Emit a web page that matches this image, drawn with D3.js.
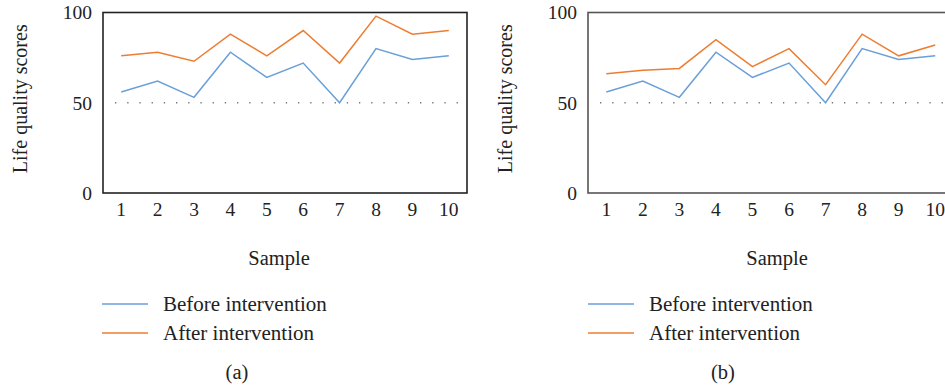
<!DOCTYPE html>
<html>
<head>
<meta charset="utf-8">
<script src="https://cdn.jsdelivr.net/npm/d3@7"></script>
<style>
  html, body { margin: 0; padding: 0; background: #fff; }
  svg { display: block; }
  text { font-family: "Liberation Serif", "DejaVu Serif", serif; fill: #222; }
</style>
</head>
<body>
<svg id="chart" width="945" height="388"></svg>
<script>
const samples = ["1","2","3","4","5","6","7","8","9","10"];
const yTicks = [0, 50, 100];
const beforeA = [56, 62, 53, 78, 64, 72, 50, 80, 74, 76];
const afterA  = [76, 78, 73, 88, 76, 90, 72, 98, 88, 90];
const beforeB = [56, 62, 53, 78, 64, 72, 50, 80, 74, 76];
const afterB  = [66, 68, 69, 85, 70, 80, 60, 88, 76, 82];
const seriesNames = ["Before intervention", "After intervention"];
const panelLabels = ["(a)", "(b)"];

const colors = ["#6a9fd8", "#ed7d31"];
const svg = d3.select("#chart");

function drawPanel(cfg) {
  const g = svg.append("g");
  const x = d3.scaleBand().domain(samples).range([cfg.left, cfg.right]);
  const y = d3.scaleLinear().domain([0, 100]).range([cfg.bottom, cfg.top]);
  const cx = d => x(d) + x.bandwidth() / 2;

  // reference dotted line at 50
  g.append("line")
    .attr("x1", cfg.left + 12).attr("x2", cfg.right)
    .attr("y1", y(50)).attr("y2", y(50))
    .attr("stroke", "#777").attr("stroke-width", 1.3)
    .attr("stroke-dasharray", "1.3,10.9");

  // lines
  const line = d3.line().x((d, i) => cx(samples[i])).y(d => y(d));
  [cfg.before, cfg.after].forEach((vals, k) => {
    g.append("path").datum(vals)
      .attr("fill", "none")
      .attr("stroke", colors[k])
      .attr("stroke-width", 1.5)
      .attr("stroke-linejoin", "miter")
      .attr("d", line);
  });

  // frame
  g.append("rect")
    .attr("x", cfg.left).attr("y", cfg.top)
    .attr("width", cfg.right - cfg.left).attr("height", cfg.bottom - cfg.top)
    .attr("fill", "none").attr("stroke", cfg.frame).attr("stroke-width", 1.6);

  // y axis
  const ya = g.append("g")
    .attr("transform", `translate(${cfg.left - 11},0)`)
    .call(d3.axisLeft(y).tickValues(yTicks).tickSize(0).tickPadding(0));
  ya.select(".domain").remove();
  ya.selectAll("text").attr("font-family", "Liberation Serif").attr("font-size", 19.5).attr("fill", "#222");

  // x axis
  const xa = g.append("g")
    .attr("transform", `translate(0,${cfg.bottom + 9})`)
    .call(d3.axisBottom(x).tickSize(0).tickPadding(0));
  xa.select(".domain").remove();
  xa.selectAll("text").attr("font-family", "Liberation Serif").attr("font-size", 19.5).attr("fill", "#222")
    .attr("dy", "0.71em");

  // y label
  g.append("text")
    .attr("transform", `translate(${cfg.ylabX},${(cfg.top + cfg.bottom) / 2 - 4}) rotate(-90)`)
    .attr("text-anchor", "middle").attr("dominant-baseline", "central")
    .attr("font-size", 20)
    .text("Life quality scores");

  // x label
  g.append("text")
    .attr("x", cfg.sampleX).attr("y", 265)
    .attr("text-anchor", "middle").attr("font-size", 20.5)
    .text("Sample");

  // legend
  seriesNames.forEach((name, k) => {
    const ly = 304 + k * 29;
    g.append("line")
      .attr("x1", cfg.legX).attr("x2", cfg.legX + 46)
      .attr("y1", ly).attr("y2", ly)
      .attr("stroke", colors[k]).attr("stroke-width", 1.5);
    g.append("text")
      .attr("x", cfg.legX + 61).attr("y", ly + 7)
      .attr("font-size", 21)
      .text(name);
  });

  // panel label
  g.append("text")
    .attr("x", cfg.capX).attr("y", 379)
    .attr("text-anchor", "middle").attr("font-size", 20.5)
    .text(cfg.cap);
}

drawPanel({ left: 103, right: 467, top: 12.5, bottom: 193, before: beforeA, after: afterA,
  frame: "#222", ylabX: 20, sampleX: 279, legX: 102, capX: 237, cap: panelLabels[0] });
drawPanel({ left: 588, right: 953.5, top: 12.5, bottom: 193, before: beforeB, after: afterB,
  frame: "#555", ylabX: 505, sampleX: 777, legX: 588, capX: 723, cap: panelLabels[1] });
</script>
</body>
</html>
